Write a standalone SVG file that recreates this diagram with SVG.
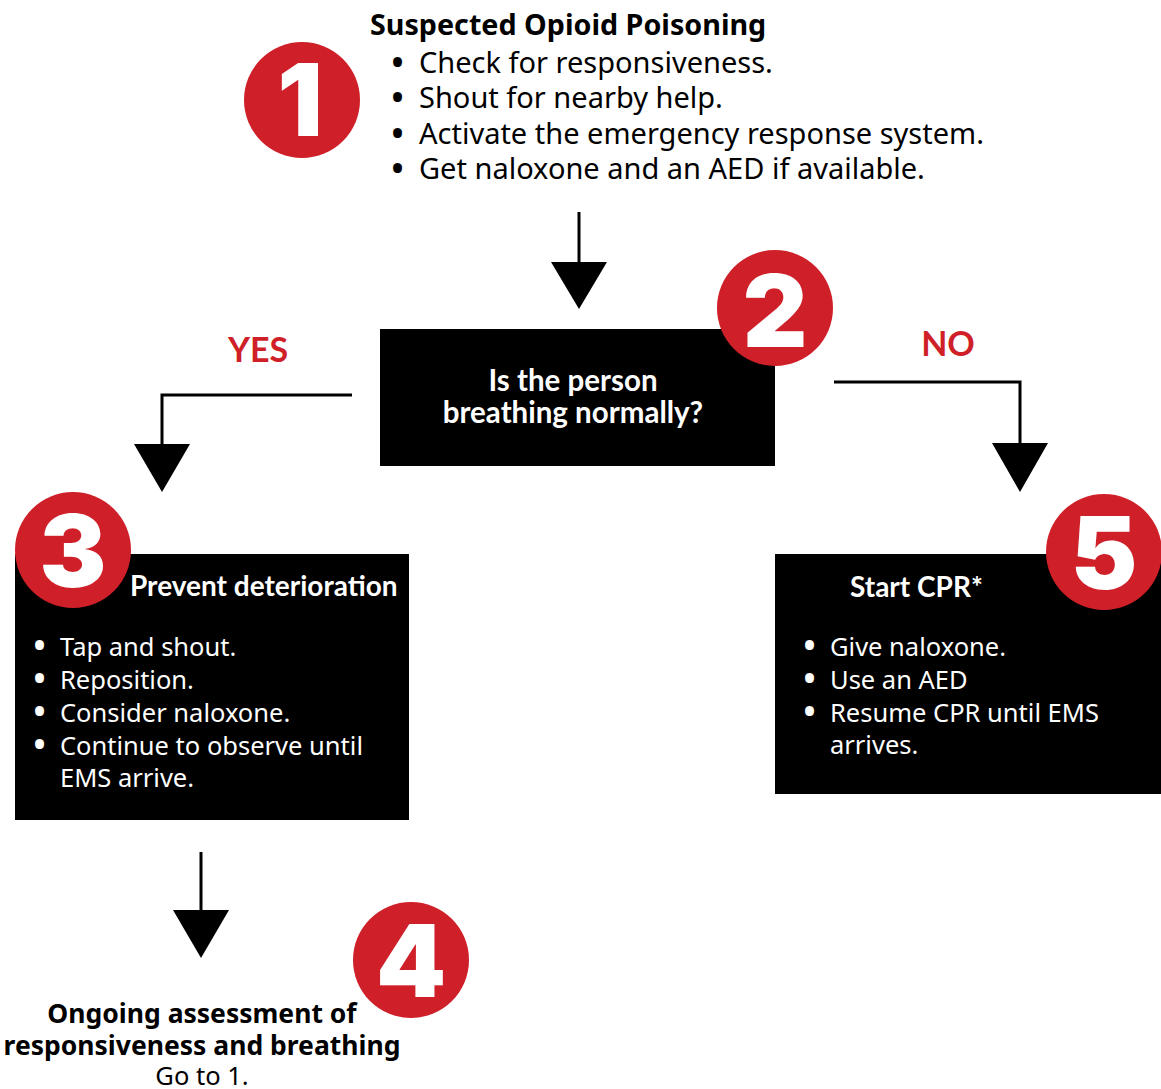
<svg xmlns="http://www.w3.org/2000/svg" width="1161" height="1089" viewBox="0 0 1161 1089">
<defs>
<style>
.badge{fill:#cf1f28}
.num{fill:#fff;font-family:Inter,"Liberation Sans",sans-serif;font-weight:900;font-size:100px;text-anchor:middle}
.box{fill:#000}
.t{font-family:"Noto Sans","Open Sans",sans-serif;font-size:29px}
.ti{font-family:"Noto Sans","Open Sans",sans-serif;font-size:25.5px}
.tb{font-family:"Noto Sans","Open Sans",sans-serif;font-size:26.5px;font-weight:700}
.tt{font-family:"Noto Sans","Open Sans",sans-serif;font-size:28.7px;font-weight:700}
.h{font-family:Lato,"Noto Sans",sans-serif;font-size:28px;font-weight:700;fill:#fff}
.q{font-family:Lato,"Noto Sans",sans-serif;font-size:29.5px;font-weight:700;fill:#fff;text-anchor:middle}
.w{fill:#fff}
.bl{font-size:40px}
.lbl{font-family:Lato,"Noto Sans",sans-serif;font-size:34px;font-weight:700;fill:#cf1f28;text-anchor:middle}
.ln{fill:none;stroke:#000;stroke-width:3}
.ah{fill:#000}
</style>
</defs>
<rect width="1161" height="1089" fill="#fff"/>
<g id="connectors">
<line class="ln" x1="579" y1="212" x2="579" y2="264"/>
<polygon class="ah" points="551,262 607,262 579,309"/>
<polyline class="ln" points="352,395 162,395 162,446"/>
<polygon class="ah" points="134,444 190,444 162,492"/>
<polyline class="ln" points="834,382 1020,382 1020,445"/>
<polygon class="ah" points="992,443 1048,443 1020,492"/>
<line class="ln" x1="201" y1="852" x2="201" y2="912"/>
<polygon class="ah" points="173,910 229,910 201,958"/>
<text class="lbl" x="258" y="362">YES</text>
<text class="lbl" x="948" y="356">NO</text>
</g>
<g id="node1">
<circle class="badge" cx="302" cy="100" r="58"/>
<text class="num" x="300" y="136">1</text>
<text class="tt" x="370" y="35">Suspected Opioid Poisoning</text>
<g class="t">
<text x="390" y="73"><tspan class="bl" dy="4">•</tspan><tspan x="419" dy="-4">Check for responsiveness.</tspan></text>
<text x="390" y="108"><tspan class="bl" dy="4">•</tspan><tspan x="419" dy="-4">Shout for nearby help.</tspan></text>
<text x="390" y="144"><tspan class="bl" dy="4">•</tspan><tspan x="419" dy="-4">Activate the emergency response system.</tspan></text>
<text x="390" y="179"><tspan class="bl" dy="4">•</tspan><tspan x="419" dy="-4">Get naloxone and an AED if available.</tspan></text>
</g>
</g>
<g id="node2">
<rect class="box" x="380" y="329" width="395" height="137"/>
<circle class="badge" cx="775" cy="308" r="58"/>
<text class="num" x="775" y="347">2</text>
<text class="q" x="573" y="391">Is the person</text>
<text class="q" x="573" y="423">breathing normally?</text>
</g>
<g id="node3">
<rect class="box" x="15" y="554" width="394" height="266"/>
<circle class="badge" cx="73" cy="550" r="58"/>
<text class="num" x="73" y="587">3</text>
<text class="h" x="130" y="596">Prevent deterioration</text>
<g class="ti w">
<text x="32" y="656"><tspan class="bl" dy="4">•</tspan><tspan x="60" dy="-4">Tap and shout.</tspan></text>
<text x="32" y="689"><tspan class="bl" dy="4">•</tspan><tspan x="60" dy="-4">Reposition.</tspan></text>
<text x="32" y="722"><tspan class="bl" dy="4">•</tspan><tspan x="60" dy="-4">Consider naloxone.</tspan></text>
<text x="32" y="755"><tspan class="bl" dy="4">•</tspan><tspan x="60" dy="-4">Continue to observe until</tspan></text>
<text x="60" y="787">EMS arrive.</text>
</g>
</g>
<g id="node5">
<rect class="box" x="775" y="554" width="386" height="240"/>
<circle class="badge" cx="1104" cy="552" r="58"/>
<text class="num" x="1104" y="589">5</text>
<text class="h" x="850" y="597">Start CPR*</text>
<g class="ti w">
<text x="802" y="656"><tspan class="bl" dy="4">•</tspan><tspan x="830" dy="-4">Give naloxone.</tspan></text>
<text x="802" y="689"><tspan class="bl" dy="4">•</tspan><tspan x="830" dy="-4">Use an AED</tspan></text>
<text x="802" y="722"><tspan class="bl" dy="4">•</tspan><tspan x="830" dy="-4">Resume CPR until EMS</tspan></text>
<text x="830" y="754">arrives.</text>
</g>
</g>
<g id="node4">
<circle class="badge" cx="411" cy="960" r="58"/>
<text class="num" x="411" y="997">4</text>
<text class="tb" x="202" y="1023" text-anchor="middle">Ongoing assessment of</text>
<text class="tb" x="202" y="1055" text-anchor="middle">responsiveness and breathing</text>
<text class="ti" x="202" y="1085" text-anchor="middle">Go to 1.</text>
</g>
</svg>
